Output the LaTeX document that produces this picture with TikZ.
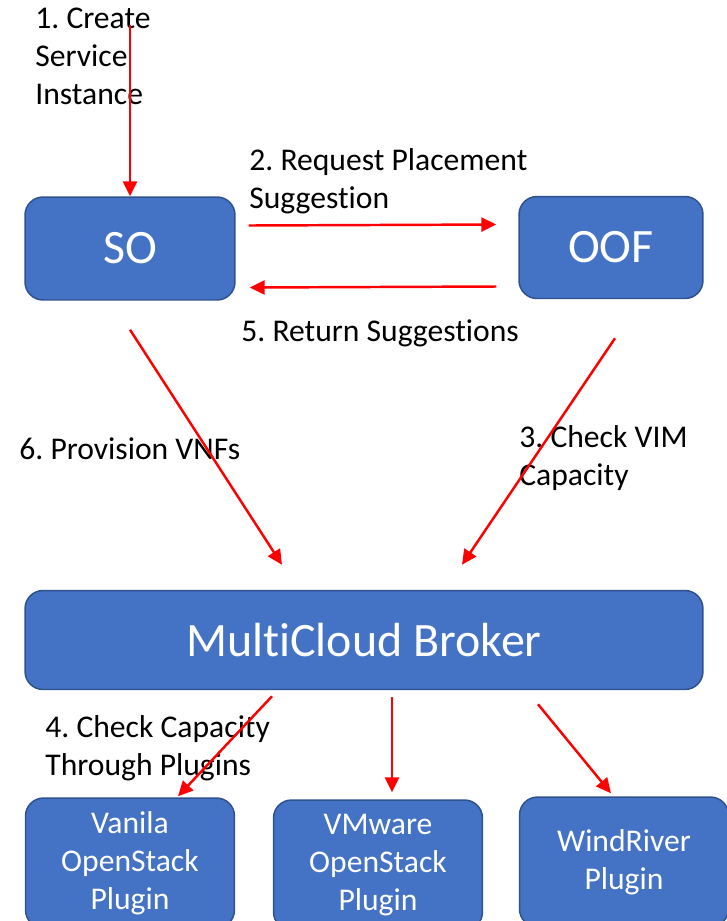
\documentclass[tikz,border=0pt]{standalone}
\usepackage{fontspec}
\setmainfont{Carlito}[RawFeature={-liga}]
\usetikzlibrary{arrows.meta,calc}
\definecolor{boxblue}{HTML}{4472C4}
\definecolor{boxline}{HTML}{2F528F}
\frenchspacing
\begin{document}
\begin{tikzpicture}
		[x=0.02cm,y=-0.02cm,
		blk/.style={rectangle,rounded corners=0.36cm,draw=boxline,line width=0.85pt,fill=boxblue,text=white,
			font=\fontsize{27.3}{30}\selectfont,inner sep=0pt},
		plug/.style={blk,minimum width=4.18cm,minimum height=2.6cm,align=center,font=\fontsize{18}{21.6}\selectfont},
		lbl/.style={draw=none,fill=none,anchor=base west,align=left,inner sep=0pt,font=\fontsize{18}{21.6}\selectfont},
		flow/.style={-{Triangle[length=8.5pt,width=8pt]},draw=red,line width=1.4pt}
		]
		\useasboundingbox (0,0) rectangle (727,921);
		\clip (0,0) rectangle (727,921);
		\node[blk,minimum width=4.2cm,minimum height=2.06cm] (so) at (130,248.5){SO};
		\node[blk,minimum width=3.68cm,minimum height=2.04cm] (oof) at (611,247.5){OOF};
		\node[blk,minimum width=13.56cm,minimum height=1.98cm] (broker) at (364,640){MultiCloud Broker};
		\node[plug] (vanila) at (130,863){Vanila\\OpenStack\\Plugin};
		\node[plug] (vmware) at (378,865){VMware\\OpenStack\\Plugin};
		\node[plug] (windriver) at (624,862){WindRiver\\Plugin};
% labels: base is the last line
\node[lbl] (l1) at (35,104){1. Create\\Service\\Instance};
\node[lbl] (l2) at (249,208){2. Request Placement\\Suggestion};
\node[lbl] (l3) at (519,485){3. Check VIM\\Capacity};
\node[lbl] (l4) at (45,775){4. Check Capacity\\Through Plugins};
\node[lbl] (l5) at (241,341){5. Return Suggestions};
\node[lbl] (l6) at (19,459){6. Provision VNFs};
\coordinate (start) at (130,25);
		\draw[flow] (start) -- (so.north);
		\draw[flow] ($(so.east)+(13,-23)$) -- ($(oof.west)+(-22,-23)$);
		\draw[flow] ($(oof.west)+(-22,39)$) -- ($(so.east)+(14,39)$);
		\draw[flow] ($(so.south)+(0,29)$) -- ($(broker.north)+(-82,-25)$);
		\draw[flow] ($(oof.south)+(4,39)$) -- ($(broker.north)+(98,-25)$);
		\draw[flow] ($(broker.south)+(-92,6)$) -- ($(vanila.north)+(48,-1)$);
		\draw[flow] ($(broker.south)+(28,7)$) -- ($(vmware.north)+(14,-7)$);
		\draw[flow] ($(broker.south)+(174,14)$) -- ($(windriver.north)+(-13,-3)$);
	\end{tikzpicture}
\end{document}
